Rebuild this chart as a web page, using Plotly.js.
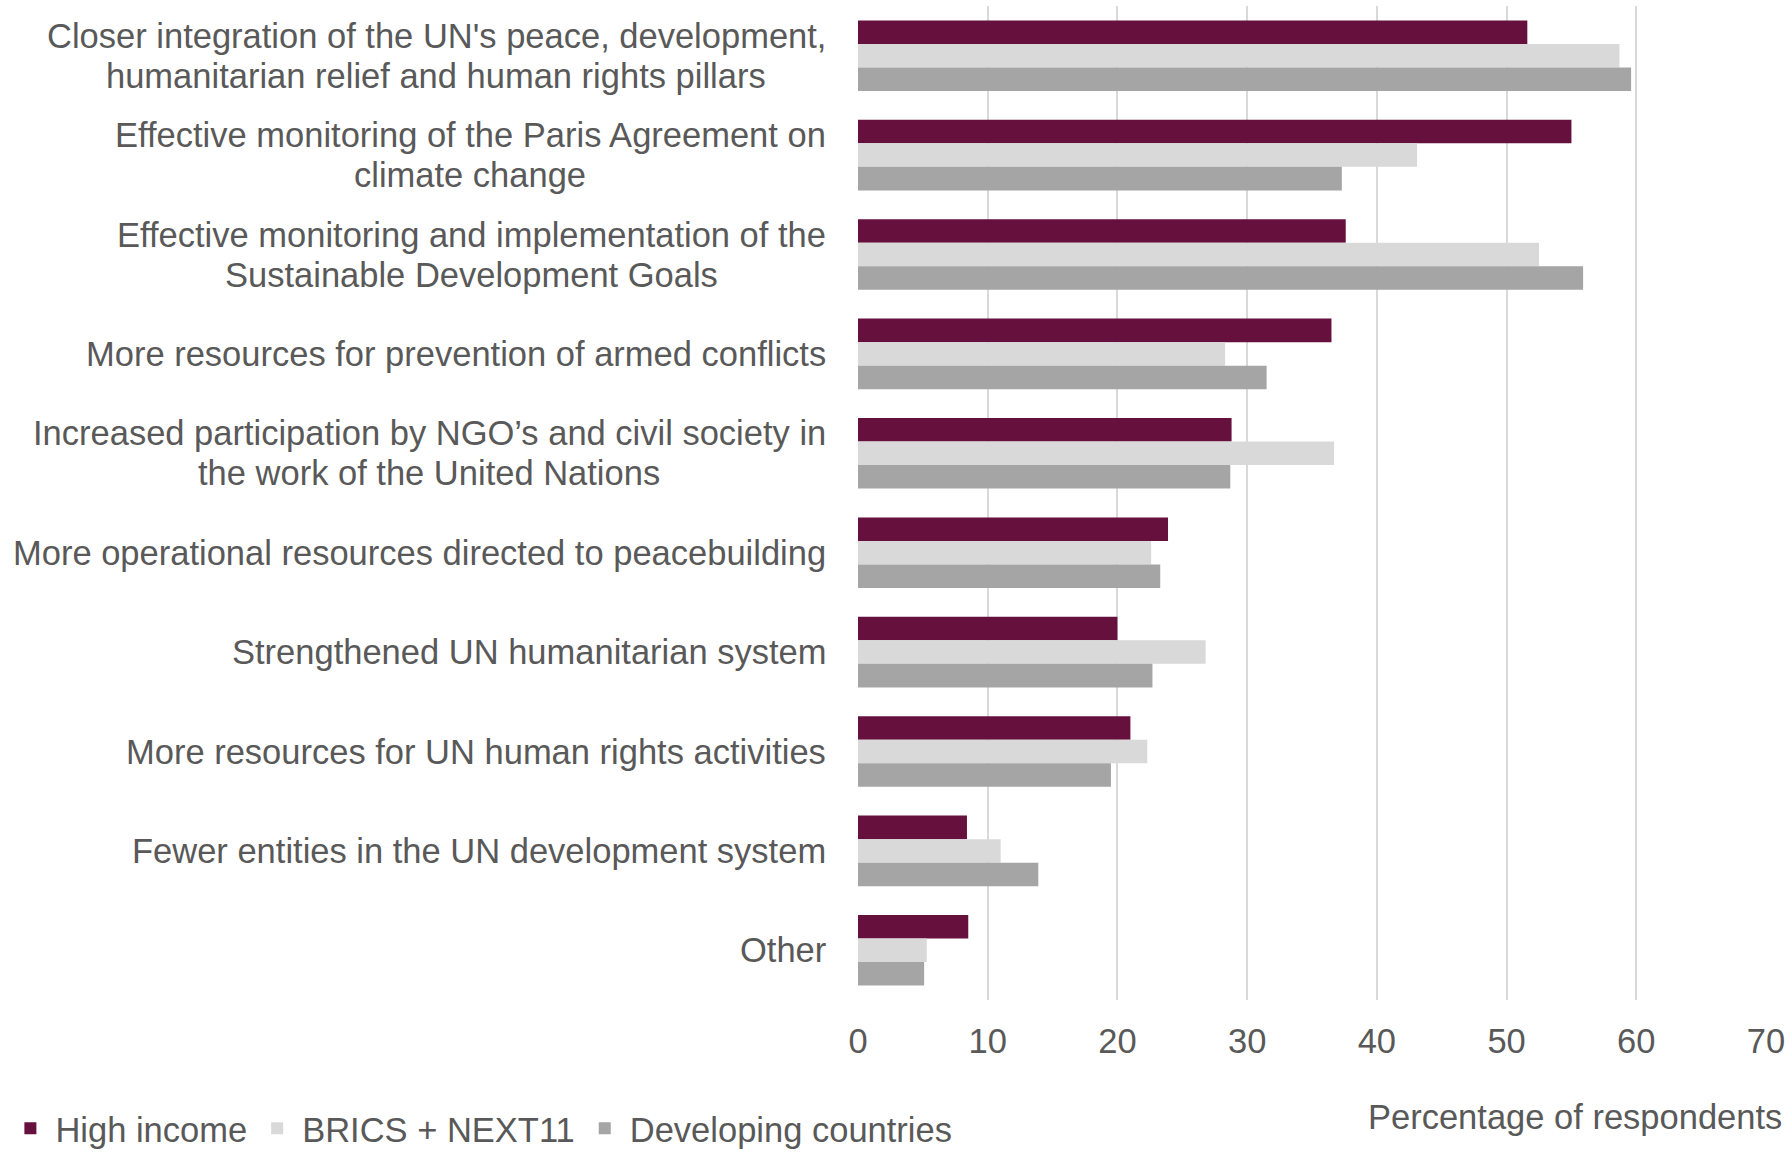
<!DOCTYPE html>
<html>
<head>
<meta charset="utf-8">
<script src="https://cdn.plot.ly/plotly-3.0.1.min.js"></script>
<style>
  html, body { margin: 0; padding: 0; background: #ffffff; }
  #chart { width: 1792px; height: 1154px; }
</style>
</head>
<body>
<div id="chart"></div>
<script>
const categories = [
  "Closer integration of the UN's peace, development,<br>humanitarian relief and human rights pillars",
  "Effective monitoring of the Paris Agreement on<br>climate change",
  "Effective monitoring and implementation of the<br>Sustainable Development Goals",
  "More resources for prevention of armed conflicts",
  "Increased participation by NGO’s and civil society in<br>the work of the United Nations",
  "More operational resources directed to peacebuilding",
  "Strengthened UN humanitarian system",
  "More resources for UN human rights activities",
  "Fewer entities in the UN development system",
  "Other"
];
const seriesNames = ["High income", "BRICS + NEXT11", "Developing countries"];
const highIncome = [51.6, 55.0, 37.6, 36.5, 28.8, 23.9, 20.0, 21.0, 8.4, 8.5];
const brics = [58.7, 43.1, 52.5, 28.3, 36.7, 22.6, 26.8, 22.3, 11.0, 5.3];
const developing = [59.6, 37.3, 55.9, 31.5, 28.7, 23.3, 22.7, 19.5, 13.9, 5.1];
const xTicks = [0, 10, 20, 30, 40, 50, 60, 70];
const colors = ["#66103D", "#D9D9D9", "#A5A5A5"];

const textColor = "#595959";
const fontFamily = "'Liberation Sans', Arial, sans-serif";
const fontSize = 34.5;
const lineGap = 40;

const seriesValues = [highIncome, brics, developing];
const traces = seriesValues.map((vals, i) => ({
  type: "bar",
  orientation: "h",
  name: seriesNames[i],
  x: vals,
  y: categories,
  marker: { color: colors[i], line: { width: 0 } },
  hoverinfo: "x+name"
}));

// measure text to center wrapped lines within each label block
const ctx = document.createElement("canvas").getContext("2d");
ctx.font = fontSize + "px " + fontFamily;
const annotations = [];
categories.forEach(c => {
  const lines = c.split("<br>");
  const widths = lines.map(l => ctx.measureText(l).width);
  const maxW = Math.max(...widths);
  lines.forEach((l, k) => {
    annotations.push({
      xref: "paper", yref: "y",
      x: 0, y: c,
      xanchor: "right", yanchor: "middle",
      xshift: -30 - (maxW - widths[k]) / 2,
      yshift: ((lines.length - 1) / 2 - k) * lineGap,
      text: l,
      showarrow: false,
      font: { family: fontFamily, size: fontSize, color: textColor }
    });
  });
});
annotations.push({
  xref: "paper", yref: "paper",
  x: 1, y: -0.118,
  xanchor: "right", yanchor: "middle",
  xshift: 18,
  text: "Percentage of respondents",
  showarrow: false,
  font: { family: fontFamily, size: fontSize, color: textColor }
});

const layout = {
  width: 1792, height: 1154,
  margin: { l: 858, r: 26, t: 6, b: 154, autoexpand: false },
  paper_bgcolor: "#ffffff",
  plot_bgcolor: "#ffffff",
  barmode: "group",
  bargap: 0.29,
  bargroupgap: 0,
  font: { family: fontFamily, size: fontSize, color: textColor },
  xaxis: {
    range: [0, 70],
    tickvals: xTicks,
    ticktext: xTicks.map(String),
    showgrid: true,
    gridcolor: "#D9D9D9",
    gridwidth: 2,
    zeroline: false,
    showline: false,
    ticks: "",
    ticklabelstandoff: 17,
    tickfont: { family: fontFamily, size: fontSize, color: textColor },
    fixedrange: true
  },
  yaxis: {
    type: "category",
    autorange: "reversed",
    showticklabels: false,
    showgrid: false,
    zeroline: false,
    showline: false,
    ticks: "",
    fixedrange: true
  },
  legend: {
    orientation: "h",
    x: -0.939, xanchor: "left",
    y: -0.129, yanchor: "middle",
    font: { family: fontFamily, size: fontSize, color: textColor },
    itemwidth: 40,
    traceorder: "normal"
  },
  annotations: annotations,
  showlegend: true
};

Plotly.newPlot("chart", traces, layout, { displayModeBar: false, staticPlot: true });
</script>
</body>
</html>
